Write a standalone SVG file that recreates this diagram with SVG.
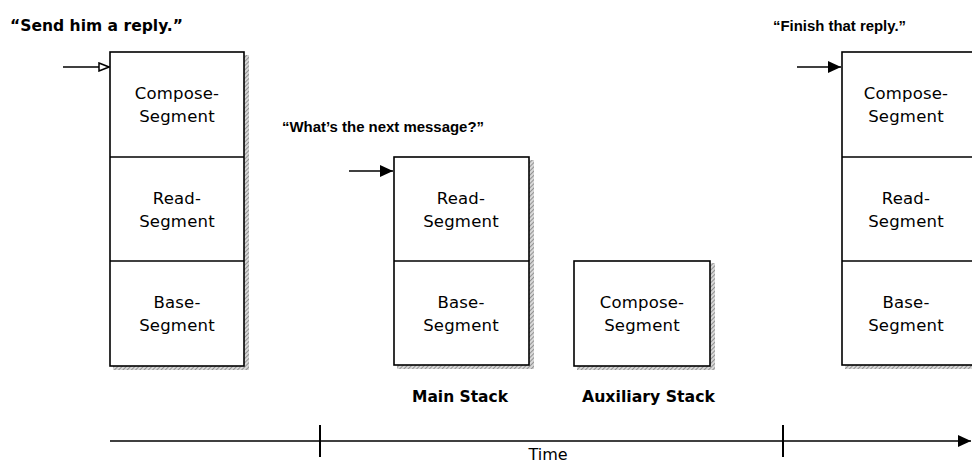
<svg xmlns="http://www.w3.org/2000/svg" width="972" height="466" viewBox="0 0 972 466">
<style>
.box{fill:#fff;stroke:#000;stroke-width:1.6}
.seg{font-family:"DejaVu Sans","Liberation Sans",Arial,sans-serif;font-size:16.5px;fill:#000;text-anchor:middle;letter-spacing:0.2px}
.cap{font-family:"DejaVu Sans","Liberation Sans",Arial,sans-serif;font-size:15px;font-weight:bold;fill:#000}
.cap2{font-family:"Liberation Sans",Arial,sans-serif;font-size:15.5px;font-weight:bold;fill:#000}
.lbl{font-family:"DejaVu Sans","Liberation Sans",Arial,sans-serif;font-size:15px;font-weight:bold;fill:#000}
.ln{stroke:#000;stroke-width:1.6;fill:none}
.sh{fill:url(#hatch)}
</style>
<defs>
<pattern id="hatch" width="3" height="3" patternUnits="userSpaceOnUse" patternTransform="rotate(45)">
<rect width="3" height="3" fill="#d8d8d8"/>
<line x1="0" y1="0" x2="0" y2="3" stroke="#666" stroke-width="1.2"/>
</pattern>
<marker id="open" markerWidth="12" markerHeight="10" refX="11" refY="5" orient="auto" markerUnits="userSpaceOnUse">
<path d="M1,1 L11,5 L1,9 Z" fill="#fff" stroke="#000" stroke-width="1.5"/>
</marker>
<marker id="fill" markerWidth="14" markerHeight="12" refX="13" refY="6" orient="auto" markerUnits="userSpaceOnUse">
<path d="M0,0 L13,6 L0,12 Z" fill="#000"/>
</marker>
</defs>

<text class="cap" x="10" y="31" textLength="173" lengthAdjust="spacingAndGlyphs">“Send him a reply.”</text>
<text class="cap2" x="282" y="132" textLength="202" lengthAdjust="spacingAndGlyphs">“What’s the next message?”</text>
<text class="cap2" x="773" y="31" textLength="133" lengthAdjust="spacingAndGlyphs">“Finish that reply.”</text>

<g id="stack1">
<rect class="sh" x="244" y="55" width="5" height="315"/>
<rect class="sh" x="113" y="366" width="136" height="4"/>
<rect class="box" x="110" y="52" width="134" height="314"/>
<line class="ln" x1="110" y1="157" x2="244" y2="157"/>
<line class="ln" x1="110" y1="261" x2="244" y2="261"/>
<text class="seg" x="177" y="99">Compose-</text>
<text class="seg" x="177" y="122">Segment</text>
<text class="seg" x="177" y="204">Read-</text>
<text class="seg" x="177" y="227">Segment</text>
<text class="seg" x="177" y="308">Base-</text>
<text class="seg" x="177" y="331">Segment</text>
</g>

<g id="stack2">
<rect class="sh" x="529" y="160" width="5" height="208"/>
<rect class="sh" x="397" y="365" width="137" height="4"/>
<rect class="box" x="394" y="157" width="135" height="208"/>
<line class="ln" x1="394" y1="261" x2="529" y2="261"/>
<text class="seg" x="461" y="204">Read-</text>
<text class="seg" x="461" y="227">Segment</text>
<text class="seg" x="461" y="308">Base-</text>
<text class="seg" x="461" y="331">Segment</text>
<text class="lbl" x="412" y="402" textLength="96" lengthAdjust="spacingAndGlyphs">Main Stack</text>
</g>

<g id="aux">
<rect class="sh" x="710" y="263" width="5" height="107"/>
<rect class="sh" x="577" y="366" width="138" height="4"/>
<rect class="box" x="574" y="261" width="136" height="105"/>
<text class="seg" x="642" y="308">Compose-</text>
<text class="seg" x="642" y="331">Segment</text>
<text class="lbl" x="582" y="402" textLength="133" lengthAdjust="spacingAndGlyphs">Auxiliary Stack</text>
</g>

<g id="stack3">
<rect class="sh" x="845" y="365" width="130" height="4"/>
<rect class="box" x="842" y="52" width="140" height="313"/>
<line class="ln" x1="842" y1="157" x2="982" y2="157"/>
<line class="ln" x1="842" y1="261" x2="982" y2="261"/>
<text class="seg" x="906" y="99">Compose-</text>
<text class="seg" x="906" y="122">Segment</text>
<text class="seg" x="906" y="204">Read-</text>
<text class="seg" x="906" y="227">Segment</text>
<text class="seg" x="906" y="308">Base-</text>
<text class="seg" x="906" y="331">Segment</text>
</g>

<g id="connectors">
<line class="ln" x1="63" y1="67" x2="109" y2="67" marker-end="url(#open)"/>
<line class="ln" x1="349" y1="171" x2="393" y2="171" marker-end="url(#fill)"/>
<line class="ln" x1="797" y1="67" x2="841" y2="67" marker-end="url(#fill)"/>
<line class="ln" x1="110" y1="441" x2="971" y2="441" marker-end="url(#fill)"/>
<line x1="320" y1="425" x2="320" y2="457" stroke="#000" stroke-width="2"/>
<line x1="783" y1="425" x2="783" y2="457" stroke="#000" stroke-width="2"/>
</g>
<text class="seg" x="548" y="460" style="letter-spacing:0;font-size:16px">Time</text>
</svg>
